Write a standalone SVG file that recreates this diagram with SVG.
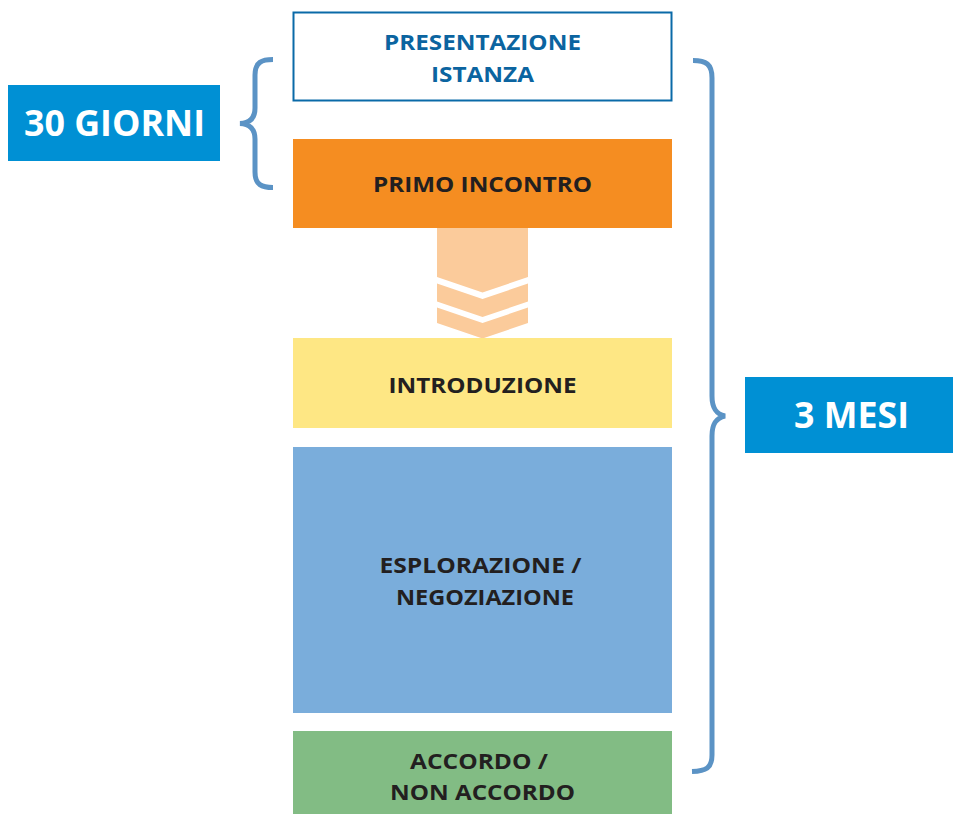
<svg xmlns="http://www.w3.org/2000/svg" width="953" height="814" viewBox="0 0 953 814">
<style>
.t{font-family:"Open Sans","Liberation Sans",sans-serif;font-weight:bold;font-size:22px;fill:#231f20;text-anchor:middle}
.tb{fill:#0b64a0}
.w{font-family:"Open Sans","Liberation Sans",sans-serif;font-weight:bold;font-size:35px;fill:#ffffff;text-anchor:middle}
.br{fill:none;stroke:#5b93c5;stroke-width:5;stroke-linecap:butt}
</style>
<rect width="953" height="814" fill="#ffffff"/>
<g id="connectors">
<g id="chevron" fill="#fbcb9b">
<polygon points="437,228 528,228 528,277 482.5,292.5 437,277"/>
<polygon points="437,283.5 482.5,299 528,283.5 528,301.5 482.5,317 437,301.5"/>
<polygon points="437,307.5 482.5,323 528,307.5 528,323 482.5,338.5 437,323"/>
</g>
</g>
<g id="n-presentazione">
<rect x="293.5" y="12.5" width="378" height="88" fill="#ffffff" stroke="#0a6aa8" stroke-width="2"/>
<text class="t tb" x="482.5" y="50" textLength="197" lengthAdjust="spacingAndGlyphs">PRESENTAZIONE</text>
<text class="t tb" x="482.5" y="82" textLength="103" lengthAdjust="spacingAndGlyphs">ISTANZA</text>
</g>
<g id="n-primo">
<rect x="293" y="139" width="379" height="89" fill="#f58d21"/>
<text class="t" x="482.5" y="192" textLength="219" lengthAdjust="spacingAndGlyphs">PRIMO INCONTRO</text>
</g>
<g id="n-introduzione">
<rect x="293" y="338" width="379" height="90" fill="#fee784"/>
<text class="t" x="482.5" y="392.5" textLength="188" lengthAdjust="spacingAndGlyphs">INTRODUZIONE</text>
</g>
<g id="n-esplorazione">
<rect x="293" y="447" width="379" height="266" fill="#7aaddb"/>
<text class="t" x="480.5" y="573" textLength="202" lengthAdjust="spacingAndGlyphs">ESPLORAZIONE /</text>
<text class="t" x="485" y="605" textLength="178" lengthAdjust="spacingAndGlyphs">NEGOZIAZIONE</text>
</g>
<g id="n-accordo">
<rect x="293" y="731" width="379" height="83" fill="#82bc84"/>
<text class="t" x="479" y="769" textLength="138" lengthAdjust="spacingAndGlyphs">ACCORDO /</text>
<text class="t" x="482.5" y="800" textLength="185" lengthAdjust="spacingAndGlyphs">NON ACCORDO</text>
</g>
<g id="brace-left">
<path class="br" d="M273,59.5 C262,59.5 255,62 255,75 L255,108 C255,118 250,123 240,123.5 C250,124 255,129 255,139 L255,172 C255,185 262,187.5 273,187.5"/>
</g>
<g id="brace-right">
<path class="br" d="M693,60.5 C706,60.5 712,64 712,78 L712,396 C712,408 716,414 725,416 C716,418 712,424 712,436 L712,755 C712,768 706,771 692,771.5"/>
</g>
<g id="n-30giorni">
<rect x="8" y="85" width="212" height="76" fill="#0090d4"/>
<text class="w" x="114.5" y="136" textLength="181" lengthAdjust="spacingAndGlyphs">30 GIORNI</text>
</g>
<g id="n-3mesi">
<rect x="745" y="377" width="208" height="76" fill="#0090d4"/>
<text class="w" x="851.5" y="428" textLength="115" lengthAdjust="spacingAndGlyphs">3 MESI</text>
</g>
</svg>
